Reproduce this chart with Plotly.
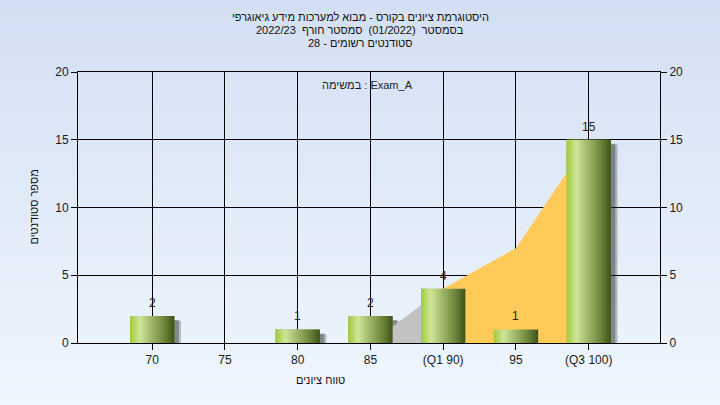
import plotly.graph_objects as go

# ---- data ----
categories = ["70", "75", "80", "85", "(Q1 90)", "95", "(Q3 100)"]
counts = [2, 0, 1, 2, 4, 1, 15]
q_low_x = [3, 4]          # category index (85 -> 90)
q_low_y = [0, 4]
q_mid_x = [4, 5, 6]       # category index (90 -> 100)
q_mid_y = [4, 7, 15]
y_ticks = [0, 5, 10, 15, 20]

title_lines = [
    "היסטוגרמת ציונים בקורס - מבוא למערכות מידע גיאוגרפי",
    "בסמסטר  (01/2022)  סמסטר חורף  2022/23",
    "סטודנטים רשומים - 28",
]
exam_label = "במשימה : Exam_A"
x_title = "טווח ציונים"
y_title = "מספר סטודנטים"

# ---- style ----
FONT = "Liberation Sans, DejaVu Sans, Arial, sans-serif"
W, H = 720, 405
L, R, T, B = 78, 60, 72, 62
BAR_W = 0.61
idx = list(range(len(categories)))

fig = go.Figure()

# background areas
fig.add_trace(go.Scatter(x=q_low_x, y=q_low_y, mode="none", fill="tozeroy",
                         fillcolor="#c2c2c2", hoverinfo="skip", showlegend=False))
fig.add_trace(go.Scatter(x=q_mid_x, y=q_mid_y, mode="none", fill="tozeroy",
                         fillcolor="#ffca58", hoverinfo="skip", showlegend=False))

# shadows
fig.add_trace(go.Bar(x=idx, y=[max(c - 0.35, 0) if c > 0 else 0 for c in counts],
                     width=BAR_W + 0.04, offset=-BAR_W / 2 + 0.05,
                     marker=dict(color="rgba(40,40,40,0.28)", line=dict(width=0)),
                     hoverinfo="skip", showlegend=False))
fig.add_trace(go.Bar(x=idx, y=[max(c - 0.3, 0) if c > 0 else 0 for c in counts],
                     width=BAR_W, offset=-BAR_W / 2 + 0.06,
                     marker=dict(color="rgba(40,40,40,0.35)", line=dict(width=0)),
                     hoverinfo="skip", showlegend=False))

# base bars
fig.add_trace(go.Bar(x=idx, y=counts, width=BAR_W,
                     marker=dict(color="#8fae4f", line=dict(width=0)),
                     showlegend=False))

# gradient overlay per bar
grad = [[0, "#9ecb3c"], [0.22, "#cfe597"], [0.5, "#9db468"], [0.8, "#677f36"], [1, "#3d5118"]]
for i, c in zip(idx, counts):
    if c <= 0:
        continue
    x0, x1 = i - BAR_W / 2, i + BAR_W / 2
    fig.add_trace(go.Scatter(
        x=[x0, x1, x1, x0, x0], y=[0, 0, c, c, 0], mode="none", fill="toself",
        fillgradient=dict(type="horizontal", colorscale=grad, start=x0, stop=x1),
        hoverinfo="skip", showlegend=False))

# invisible trace for right axis
fig.add_trace(go.Scatter(x=[idx[0]], y=[0], yaxis="y2", mode="markers",
                         marker=dict(opacity=0), hoverinfo="skip", showlegend=False))

# value labels
for i, c in zip(idx, counts):
    if c > 0:
        fig.add_annotation(x=i, y=c, text=str(c), showarrow=False, yanchor="bottom",
                           yshift=4, font=dict(family=FONT, size=12, color="#2a2020"))

# gradient paper background
n = 40
ytop, ybot = (H - B) / (H - T - B), -B / (H - T - B)
c0, c1 = (211, 224, 243), (239, 246, 254)
for k in range(n):
    f = k / (n - 1)
    col = "rgb(%d,%d,%d)" % tuple(round(a + (b - a) * f) for a, b in zip(c0, c1))
    ya = ytop - (ytop - ybot) * k / n
    yb = ytop - (ytop - ybot) * (k + 1) / n - 0.01
    fig.add_shape(type="rect", xref="paper", yref="paper", x0=-0.2, x1=1.2,
                  y0=yb, y1=ya, fillcolor=col, line=dict(width=0), layer="below")

# titles
for j, line in enumerate(title_lines):
    ypx = 17 + 13 * j
    fig.add_annotation(xref="paper", yref="paper", x=(360 - L) / (W - L - R),
                       y=(H - B - ypx) / (H - T - B), text=line, showarrow=False,
                       xanchor="center", yanchor="middle",
                       font=dict(family=FONT, size=11, color="#111"))

fig.add_annotation(xref="paper", yref="paper", x=(367 - L) / (W - L - R),
                   y=(H - B - 85) / (H - T - B), text=exam_label, showarrow=False,
                   xanchor="center", yanchor="middle",
                   font=dict(family=FONT, size=11, color="#1a1a2a"))
fig.add_annotation(xref="paper", yref="paper", x=(320 - L) / (W - L - R),
                   y=(H - B - 380) / (H - T - B), text=x_title, showarrow=False,
                   xanchor="center", yanchor="middle",
                   font=dict(family=FONT, size=11, color="#111"))
fig.add_annotation(xref="paper", yref="paper", x=(33 - L) / (W - L - R), y=0.5,
                   text=y_title, showarrow=False, textangle=-90,
                   xanchor="center", yanchor="middle",
                   font=dict(family=FONT, size=11, color="#111"))

axis_common = dict(showline=True, linecolor="black", linewidth=1, ticks="outside",
                   ticklen=6, tickcolor="black", tickfont=dict(family=FONT, size=12, color="#1a1a1a"),
                   zeroline=False, automargin=False)

fig.update_layout(
    width=W, height=H,
    margin=dict(l=L, r=R, t=T, b=B),
    paper_bgcolor="#e2ecf8", plot_bgcolor="#b4b4b4",
    barmode="overlay", showlegend=False,
    xaxis=dict(range=[-1.02, 6.98], tickmode="array", tickvals=idx, ticktext=categories,
               showgrid=True, gridcolor="black", gridwidth=1, mirror=True, **axis_common),
    yaxis=dict(range=[0, 20], tickmode="array", tickvals=y_ticks,
               showgrid=True, gridcolor="black", gridwidth=1, mirror=True, **axis_common),
    yaxis2=dict(range=[0, 20], overlaying="y", side="right", tickmode="array",
                tickvals=y_ticks, showgrid=False, **axis_common),
)

fig.write_html("out.html", config={"displayModeBar": False},
               post_script="document.body.style.margin='0px';")
